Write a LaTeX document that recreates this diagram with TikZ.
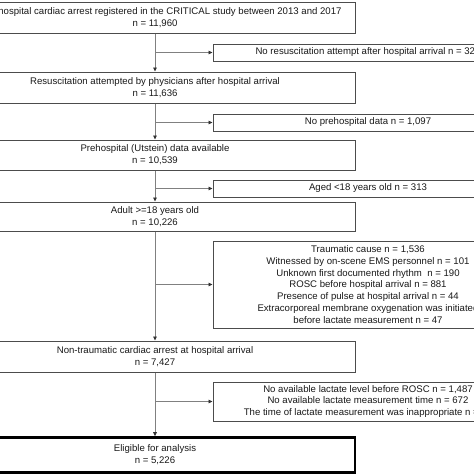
\documentclass[tikz,border=0pt]{standalone}
\usepackage{fontspec}
\setmainfont{Liberation Sans}
\usetikzlibrary{arrows.meta}
\definecolor{boxline}{gray}{0.3}
\definecolor{connline}{gray}{0.5}
\definecolor{txt}{gray}{0.1}
\begin{document}
\begin{tikzpicture}[x=1pt,y=-1pt,
  lbox/.style={draw=boxline, line width=1pt, minimum width=400pt, inner sep=0pt,
    align=center, text=txt, font=\fontsize{9.6}{12}\selectfont},
  rbox/.style={draw=boxline, line width=1pt, minimum width=310pt, inner sep=0pt,
    align=center, text=txt, font=\fontsize{9.6}{12}\selectfont},
  finalbox/.style={lbox, draw=black, line width=2.6pt},
  conn/.style={draw=connline, line width=0.8pt, -{Triangle[length=4pt,width=3.6pt,fill=black!80,color=black!80]}}]
\clip (0,0) rectangle (474,474);
\fill[white] (0,0) rectangle (474,474);
% main boxes
\node[lbox, minimum height=31pt] (b1) at (155,17.5) {Out-of-hospital cardiac arrest registered in the CRITICAL study between 2013 and 2017\\n = 11,960};
\node[lbox, minimum height=31pt] (b2) at (155,87.5) {Resuscitation attempted by physicians after hospital arrival\\n = 11,636};
\node[lbox, minimum height=30pt] (b3) at (155,155) {Prehospital (Utstein) data available\\n = 10,539};
\node[lbox, minimum height=29pt] (b4) at (155,216.5) {Adult >=18 years old\\n = 10,226};
\node[lbox, minimum height=31pt] (b5) at (155,356.5) {Non-traumatic cardiac arrest at hospital arrival\\n = 7,427};
\node[finalbox, minimum height=35pt] (b6) at (155,455) {Eligible for analysis\\n = 5,226};
% exclusion boxes
\node[rbox, minimum height=17pt] (r1) at (368,52.5) {No resuscitation attempt after hospital arrival n = 324};
\node[rbox, minimum height=17pt] (r2) at (368,122.5) {No prehospital data n = 1,097};
\node[rbox, minimum height=17pt] (r3) at (368,188.5) {Aged <18 years old n = 313};
\node[rbox, minimum height=87pt, font=\fontsize{9.6}{11.8}\selectfont] (r4) at (368,284.5) {Traumatic cause n = 1,536\\Witnessed by on-scene EMS personnel n = 101\\Unknown first documented rhythm\ \ n = 190\\ROSC before hospital arrival n = 881\\Presence of pulse at hospital arrival n = 44\\Extracorporeal membrane oxygenation was initiated\\before lactate measurement n = 47};
\node[rbox, minimum height=39pt, font=\fontsize{9.6}{11.6}\selectfont] (r5) at (368,401.5) {No available lactate level before ROSC n = 1,487\\No available lactate measurement time n = 672\\The time of lactate measurement was inappropriate n = 42};
% junctions
\coordinate (j1) at (155,52.5);
\coordinate (j2) at (155,122.5);
\coordinate (j3) at (155,188.5);
\coordinate (j4) at (155,284.5);
\coordinate (j5) at (155,401.5);
% connectors
\draw[conn] (b1.south) -- (b2.north);
\draw[conn] (b2.south) -- (b3.north);
\draw[conn] (b3.south) -- (b4.north);
\draw[conn] (b4.south) -- (b5.north);
\draw[conn] (b5.south) -- (b6.north);
\draw[conn] (j1) -- (r1.west);
\draw[conn] (j2) -- (r2.west);
\draw[conn] (j3) -- (r3.west);
\draw[conn] (j4) -- (r4.west);
\draw[conn] (j5) -- (r5.west);
\end{tikzpicture}
\end{document}
